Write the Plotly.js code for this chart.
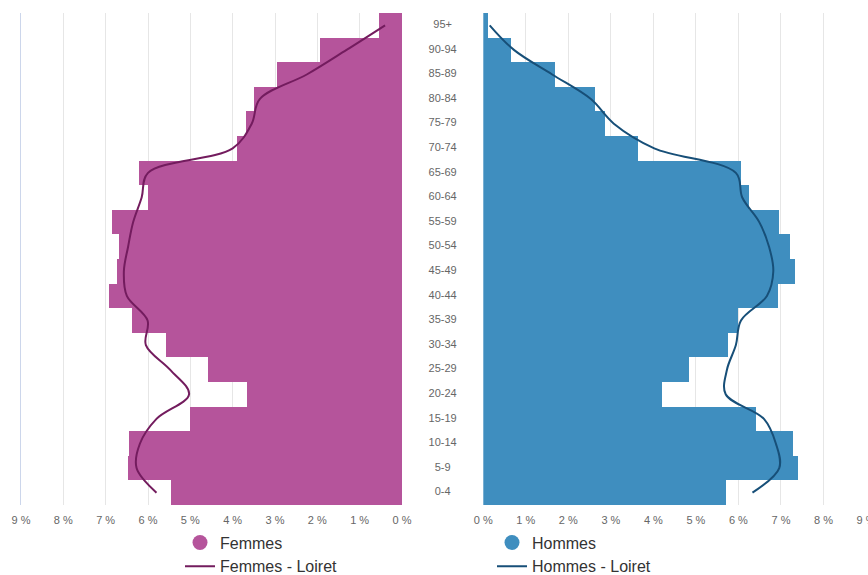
<!DOCTYPE html>
<html>
<head>
<meta charset="utf-8">
<script src="https://cdn.plot.ly/plotly-3.0.1.min.js"></script>
<style>html,body{margin:0;padding:0;background:#fff;}#chart{width:868px;height:575px;}</style>
</head>
<body>
<div id="chart"></div>
<script>
const ageGroups = ["0-4","5-9","10-14","15-19","20-24","25-29","30-34","35-39","40-44","45-49","50-54","55-59","60-64","65-69","70-74","75-79","80-84","85-89","90-94","95+"];
const femmes = [5.46,6.48,6.45,5.01,3.66,4.59,5.58,6.38,6.93,6.74,6.69,6.86,5.99,6.22,3.90,3.69,3.50,2.95,1.94,0.54];
const femmesLoiret = [5.80,6.27,6.19,5.80,5.03,5.48,6.05,6.01,6.50,6.57,6.47,6.35,6.15,6.00,4.00,3.55,3.36,2.25,1.31,0.40];
const hommes = [5.71,7.40,7.29,6.42,4.20,4.84,5.76,5.99,6.93,7.33,7.22,6.96,6.25,6.06,3.64,2.86,2.63,1.69,0.65,0.11];
const hommesLoiret = [6.33,6.96,6.88,6.60,5.70,5.73,5.94,6.06,6.67,6.82,6.72,6.49,6.09,5.94,4.02,3.07,2.53,1.62,0.72,0.15];
const tickVals = [0,1,2,3,4,5,6,7,8,9];

const colF = '#b5549b', colFL = '#731c5e';
const colH = '#3f8ebf', colHL = '#174f78';

const traces = [
  {type:'bar', orientation:'h', x:femmes, y:ageGroups, xaxis:'x', yaxis:'y',
   marker:{color:colF, line:{width:0}}, name:'Femmes', showlegend:false, hoverinfo:'x+y'},
  {type:'scatter', mode:'markers', x:[null], y:[null], xaxis:'x', yaxis:'y',
   marker:{color:colF, size:15, symbol:'circle'}, name:'Femmes', legend:'legend'},
  {type:'scatter', mode:'lines', x:femmesLoiret, y:ageGroups, xaxis:'x', yaxis:'y',
   line:{color:colFL, width:2, shape:'spline', smoothing:1}, name:'Femmes - Loiret', legend:'legend'},
  {type:'bar', orientation:'h', x:hommes, y:ageGroups, xaxis:'x2', yaxis:'y2',
   marker:{color:colH, line:{width:0}}, name:'Hommes', showlegend:false, hoverinfo:'x+y'},
  {type:'scatter', mode:'markers', x:[null], y:[null], xaxis:'x2', yaxis:'y2',
   marker:{color:colH, size:15, symbol:'circle'}, name:'Hommes', legend:'legend2'},
  {type:'scatter', mode:'lines', x:hommesLoiret, y:ageGroups, xaxis:'x2', yaxis:'y2',
   line:{color:colHL, width:2, shape:'spline', smoothing:1}, name:'Hommes - Loiret', legend:'legend2'},
  {type:'scatter', mode:'text', x:ageGroups.map(() => 0.5), y:ageGroups, text:ageGroups,
   xaxis:'x3', yaxis:'y', textposition:'middle center', cliponaxis:false,
   textfont:{family:'Liberation Sans, Arial, sans-serif', size:11, color:'#666666'},
   showlegend:false, hoverinfo:'skip'}
];

const xCommon = {
  tickmode:'array', tickvals:tickVals, ticktext:tickVals.map(v => v + ' %'),
  showgrid:true, gridcolor:'#e6e6e6', gridwidth:1, zeroline:false, showline:false,
  ticks:'', tickfont:{family:'Liberation Sans, Arial, sans-serif', size:11, color:'#666666'},
  ticklabeloverflow:'allow', ticklabelstandoff:7, automargin:false,
  fixedrange:true
};

const legendCommon = {
  xanchor:'left', yref:'container', y:0.086, yanchor:'top', orientation:'v',
  bgcolor:'rgba(0,0,0,0)', tracegroupgap:0, borderwidth:0,
  font:{family:'Liberation Sans, Arial, sans-serif', size:16, color:'#333333'}
};

const yCommon = {
  type:'category', categoryorder:'array', categoryarray:ageGroups,
  autorange:false, range:[-0.5, ageGroups.length - 0.5],
  showticklabels:false, showgrid:false, zeroline:false, ticks:'', fixedrange:true
};

const layout = {
  width:868, height:575,
  margin:{l:0, r:0, t:13, b:70, autoexpand:false},
  paper_bgcolor:'#ffffff', plot_bgcolor:'rgba(0,0,0,0)',
  bargap:0,
  showlegend:true,
  font:{family:'Liberation Sans, Arial, sans-serif'},
  xaxis:Object.assign({}, xCommon, {domain:[21/868, 402/868], range:[9,0], anchor:'y'}),
  xaxis2:Object.assign({}, xCommon, {domain:[483.3/868, 866/868], range:[0,9], anchor:'y2'}),
  xaxis3:{domain:[402/868, 483.3/868], range:[0,1], visible:false, anchor:'y', fixedrange:true},
  yaxis:Object.assign({}, yCommon, {anchor:'x', showline:true, linecolor:'#ccd6eb', linewidth:1}),
  yaxis2:Object.assign({}, yCommon, {anchor:'x2', showline:false}),
  legend:Object.assign({}, legendCommon, {x:180/868}),
  legend2:Object.assign({}, legendCommon, {x:492/868})
};

Plotly.newPlot('chart', traces, layout, {displayModeBar:false, staticPlot:true});
</script>
</body>
</html>
